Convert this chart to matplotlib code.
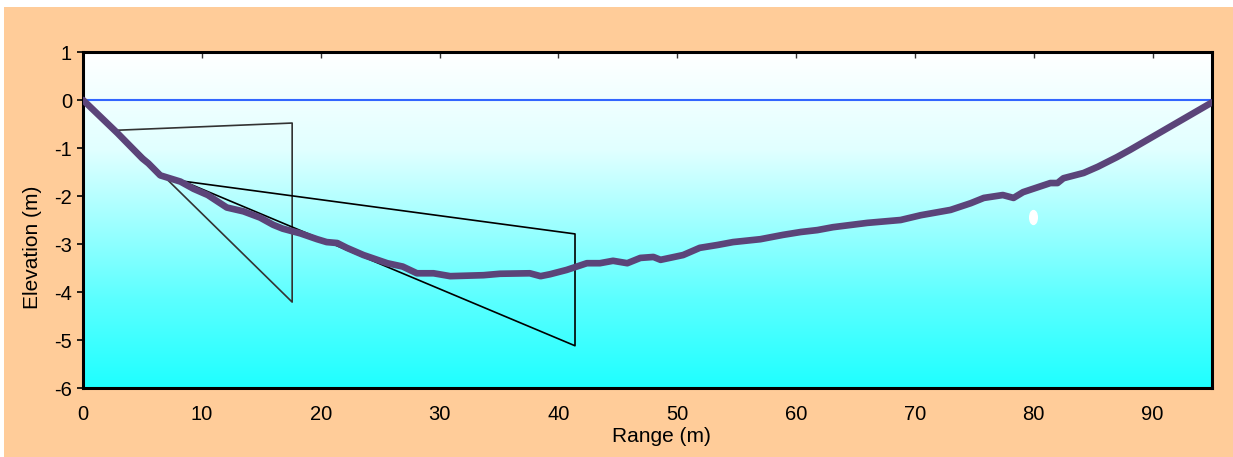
import numpy as np
import matplotlib
matplotlib.use("Agg")
import matplotlib.pyplot as plt
from matplotlib.colors import LinearSegmentedColormap
from matplotlib.markers import MarkerStyle
from matplotlib.transforms import Affine2D
from matplotlib.patches import Rectangle

plt.rcParams['font.family'] = ['Liberation Sans', 'DejaVu Sans']

# ---- data ----
profile_x = [0, 2.9, 5.0, 5.5, 6.5, 8.2, 9.3, 10.5, 12.1, 13.5, 14.9, 16.0, 16.8, 18.3,
             19.7, 20.5, 21.4, 22.2, 23.6, 25.6, 26.9, 28.1, 29.5, 30.9, 33.7, 35.1,
             37.6, 38.5, 39.3, 40.7, 42.4, 43.5, 44.6, 45.8, 46.9, 48.0, 48.6, 50.5,
             51.9, 53.4, 54.7, 57.0, 58.9, 60.4, 61.8, 63.1, 66.0, 68.8, 70.5, 73.0,
             74.7, 75.8, 77.4, 78.3, 79.1, 81.4, 82.0, 82.5, 84.2, 85.4, 87.0, 88.1, 95.0]
profile_y = [0, -0.69, -1.22, -1.32, -1.57, -1.70, -1.85, -1.98, -2.24, -2.32, -2.45, -2.60,
             -2.68, -2.78, -2.90, -2.96, -2.98, -3.08, -3.23, -3.40, -3.47, -3.61, -3.61,
             -3.67, -3.65, -3.62, -3.61, -3.67, -3.63, -3.54, -3.40, -3.40, -3.35, -3.40,
             -3.29, -3.27, -3.33, -3.23, -3.08, -3.02, -2.96, -2.90, -2.81, -2.75, -2.71,
             -2.65, -2.56, -2.50, -2.40, -2.29, -2.15, -2.04, -1.98, -2.04, -1.92, -1.73,
             -1.73, -1.63, -1.52, -1.39, -1.19, -1.04, -0.05]

beam1_x = [2.86, 17.6, 17.6, 2.86]
beam1_y = [-0.63, -0.48, -4.21, -0.63]
beam2_x = [8.4, 41.4, 41.4, 8.4]
beam2_y = [-1.69, -2.79, -5.12, -1.69]

surface_x = [0, 95]
surface_y = [0, 0]

marker_x = [79.9]
marker_y = [-2.44]

x_ticks = [0, 10, 20, 30, 40, 50, 60, 70, 80, 90]
y_ticks = [-6, -5, -4, -3, -2, -1, 0, 1]

W, H = 1233, 457
fig = plt.figure(figsize=(W / 100, H / 100), dpi=100, facecolor='white')
fig.patches.append(Rectangle((4 / W, 0), 1 - 4 / W, 1 - 7 / H, transform=fig.transFigure,
                             facecolor='#FFCC99', edgecolor='none', zorder=-10))

ax = fig.add_axes([83 / W, 1 - 388 / H, (1212 - 83) / W, (388 - 52) / H])
ax.set_zorder(1)

# gradient background (white at top -> cyan at bottom)
cmap = LinearSegmentedColormap.from_list(
    'bg', [(0.0, '#FFFFFF'), (0.29, '#E1FFFF'), (0.74, '#5AFFFF'), (1.0, '#1EFFFF')])
grad = np.linspace(0, 1, 256).reshape(-1, 1)
ax.imshow(grad, extent=[0, 95, -6, 1], aspect='auto', cmap=cmap, origin='upper', zorder=0,
          interpolation='bilinear')

ax.plot(surface_x, surface_y, color='#3366FF', lw=1.5, zorder=2)
ax.plot(beam1_x, beam1_y, color='#333333', lw=1.2, zorder=3)
ax.plot(beam2_x, beam2_y, color='black', lw=1.2, zorder=3)
ax.plot(profile_x, profile_y, color='#5B4479', lw=4.8, solid_capstyle='round',
        solid_joinstyle='round', zorder=4)
ms = MarkerStyle('o', transform=Affine2D().scale(0.55, 1.0))
ax.plot(marker_x, marker_y, ls='none', marker=ms, markersize=10, color='white',
        markeredgecolor='white', zorder=5)

ax.set_xlim(0, 95)
ax.set_ylim(-6, 1)
ax.set_xticks(x_ticks)
ax.set_yticks(y_ticks)
ax.set_xticklabels([str(v) for v in x_ticks])
ax.set_yticklabels([str(v) for v in y_ticks])

for s in ax.spines.values():
    s.set_linewidth(2.2)
    s.set_color('black')

ax.tick_params(axis='x', bottom=False, top=True, direction='in', length=4, width=1,
               color='#333333', labelbottom=True, labeltop=False, labelsize=14.5, pad=12)
ax.tick_params(axis='y', left=True, right=False, direction='out', length=4, width=1.2,
               color='black', labelsize=14.5, pad=4)

fig.text(661 / W, 1 - 437 / H, 'Range (m)', ha='center', va='center', fontsize=15)
fig.text(32 / W, 1 - 247 / H, 'Elevation (m)', ha='center', va='center', fontsize=15,
         rotation=90)

fig.savefig('out.png', dpi=100, facecolor=fig.get_facecolor())
